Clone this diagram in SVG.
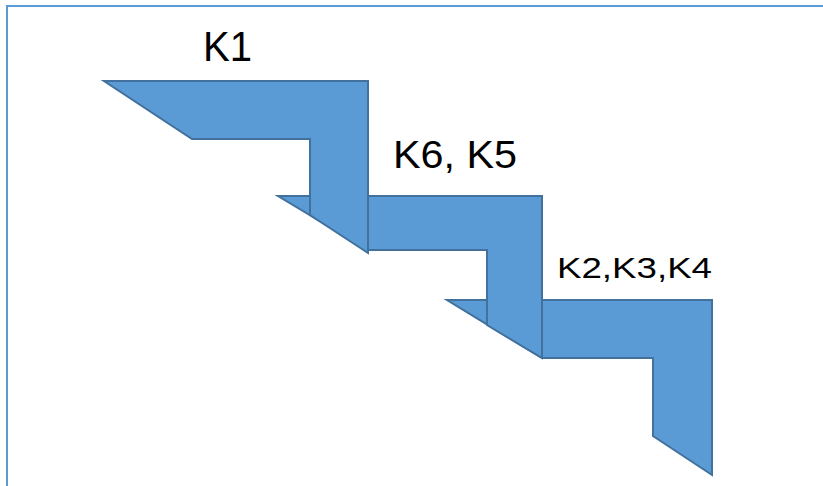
<svg xmlns="http://www.w3.org/2000/svg" width="823" height="486" viewBox="0 0 823 486">
<style>
.frame{fill:none;stroke:#5b9bd5;stroke-width:2}
.step{fill:#5b9bd5;stroke:#41719c;stroke-width:2;stroke-linejoin:miter}
.lbl{font-family:"Liberation Sans","Open Sans",sans-serif;fill:#000}
</style>
<rect width="823" height="486" fill="#fff"/>
<path class="frame" d="M7,490 L7,6 L830,6"/>
<g id="step3">
<path class="step" d="M447,300 L712,300 L712,475 L653,436 L653,358 L542,358 Z"/>
</g>
<g id="step2">
<path class="step" d="M278,196 L542,196 L542,358 L487,325 L487,250 L368,250 Z"/>
</g>
<g id="step1">
<path class="step" d="M104,81 L368,81 L368,253 L310,215 L310,139 L192,139 Z"/>
</g>
<g id="labels">
<text class="lbl" x="203" y="61" font-size="42" textLength="49" lengthAdjust="spacingAndGlyphs">K1</text>
<text class="lbl" x="393" y="168" font-size="39" textLength="124" lengthAdjust="spacingAndGlyphs">K6, K5</text>
<text class="lbl" x="557" y="278" font-size="29" textLength="155" lengthAdjust="spacingAndGlyphs">K2,K3,K4</text>
</g>
</svg>
